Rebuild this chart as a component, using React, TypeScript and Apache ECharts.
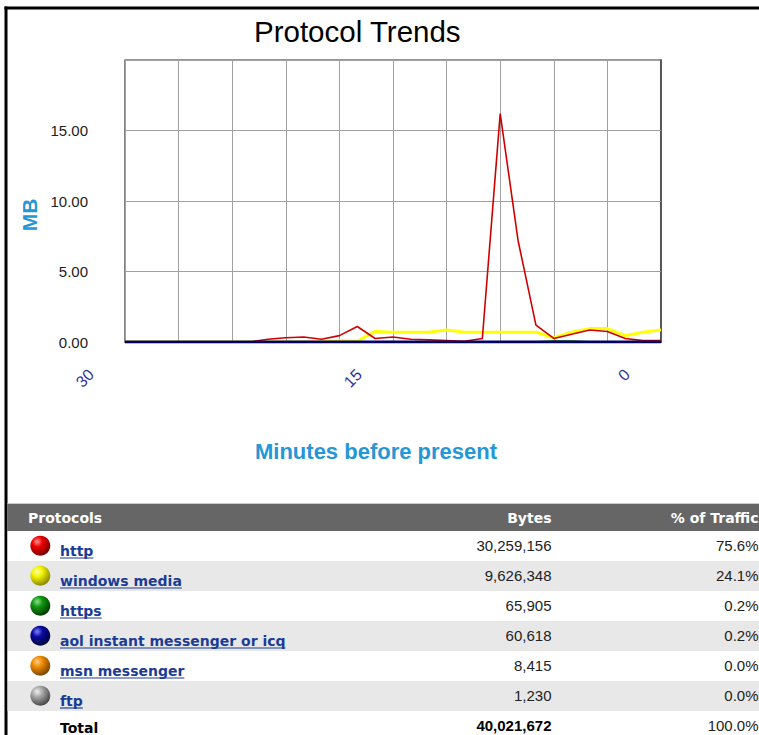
import { useEffect, useRef } from 'react';
import * as echarts from 'echarts';

// Minutes before present (x values), one sample per minute
const minutes = [30, 29, 28, 27, 26, 25, 24, 23, 22, 21, 20, 19, 18, 17, 16, 15, 14, 13, 12, 11, 10, 9, 8, 7, 6, 5, 4, 3, 2, 1, 0];

// MB per minute for each protocol
const httpMB = [0, 0, 0, 0, 0, 0, 0, 0, 0.2, 0.3, 0.35, 0.2, 0.45, 1.1, 0.25, 0.35, 0.2, 0.15, 0.1, 0.05, 0.25, 16.2, 7.2, 1.2, 0.25, 0.55, 0.85, 0.75, 0.25, 0.1, 0.1];
const windowsMediaMB = [0, 0, 0, 0, 0, 0, 0, 0, 0, 0, 0, 0, 0.1, 0.05, 0.75, 0.7, 0.7, 0.7, 0.85, 0.7, 0.7, 0.7, 0.7, 0.7, 0.3, 0.7, 0.95, 0.95, 0.45, 0.7, 0.85];
const httpsMB = [0, 0, 0, 0, 0, 0, 0, 0, 0, 0, 0, 0, 0, 0, 0, 0, 0, 0, 0, 0, 0, 0, 0, 0, 0.05, 0.05, 0, 0, 0, 0, 0];
const aolMB = [0, 0, 0, 0, 0, 0, 0, 0, 0, 0, 0, 0, 0, 0, 0, 0, 0, 0, 0, 0, 0, 0, 0, 0, 0, 0, 0, 0, 0, 0, 0];
const msnMB = [0, 0, 0, 0, 0, 0, 0, 0, 0, 0, 0, 0, 0, 0, 0, 0, 0, 0, 0, 0, 0, 0, 0, 0, 0, 0, 0, 0, 0, 0.05, 0];
const ftpMB = [0, 0, 0, 0, 0, 0, 0, 0, 0, 0, 0, 0, 0, 0, 0, 0, 0, 0, 0, 0, 0, 0, 0, 0, 0, 0, 0, 0, 0, 0, 0];

const xLabelMinutes = [30, 15, 0];

// Table
const protocolNames = ['http', 'windows media', 'https', 'aol instant messenger or icq', 'msn messenger', 'ftp'];
const protocolBytes = [30259156, 9626348, 65905, 60618, 8415, 1230];
const protocolPercent = [75.6, 24.1, 0.2, 0.2, 0.0, 0.0];
const totalBytes = 40021672;
const totalPercent = 100.0;

const lineColors = { http: '#d00000', wm: '#ffff00', https: '#008800', aol: '#000066', msn: '#ff9900', ftp: '#888888' };
const ballColors = [
  ['#ff9090', '#ee0000', '#700000'],
  ['#ffffb0', '#f2f200', '#808000'],
  ['#90e090', '#119911', '#003300'],
  ['#8080ff', '#0a0aa0', '#000030'],
  ['#ffd090', '#f08c00', '#704000'],
  ['#f0f0f0', '#a8a8a8', '#404040'],
];

const LINK = '#1a3c96';
const BLUE = '#2596d6';
const linkFont = 'bold 14px "DejaVu Sans"';

function measure(text: string, font: string) {
  const c = document.createElement('canvas').getContext('2d');
  if (!c) return text.length * 8;
  c.font = font;
  return c.measureText(text).width;
}

export default function App() {
  const ref = useRef<HTMLDivElement>(null);
  useEffect(() => {
    if (!ref.current) return;
    const chart = echarts.init(ref.current, null, { renderer: 'svg' });
    const pairs = (arr: number[]) => minutes.map((m, i) => [m, arr[i]]);
    const mk = (name: string, arr: number[], color: string, width: number) => ({
      name,
      type: 'line',
      data: pairs(arr),
      showSymbol: false,
      symbol: 'none',
      lineStyle: { color, width },
      itemStyle: { color },
      z: 3,
    });

    const g: any[] = [];
    // page frame
    g.push({ type: 'rect', shape: { x: 4.5, y: 6.5, width: 760, height: 3 }, style: { fill: '#000' }, silent: true });
    g.push({ type: 'rect', shape: { x: 4.5, y: 6.5, width: 3, height: 740 }, style: { fill: '#000' }, silent: true });
    // table header
    const rowTop = 531;
    const rowH = 30;
    g.push({ type: 'rect', shape: { x: 7.5, y: 503, width: 760, height: 1 }, style: { fill: '#cccccc' } });
    g.push({ type: 'rect', shape: { x: 7.5, y: 504, width: 760, height: 27 }, style: { fill: '#666666' } });
    g.push({ type: 'text', x: 28, y: 517.5, style: { text: 'Protocols', font: 'bold 14px "DejaVu Sans"', fill: '#fff', verticalAlign: 'middle' } });
    g.push({ type: 'text', x: 551.5, y: 517.5, style: { text: 'Bytes', font: 'bold 14px "DejaVu Sans"', fill: '#fff', align: 'right', verticalAlign: 'middle' } });
    g.push({ type: 'text', x: 758.5, y: 517.5, style: { text: '% of Traffic', font: 'bold 14px "DejaVu Sans"', fill: '#fff', align: 'right', verticalAlign: 'middle' } });
    protocolNames.forEach((name, i) => {
      const top = rowTop + i * rowH;
      g.push({ type: 'rect', shape: { x: 7.5, y: top, width: 760, height: rowH }, style: { fill: i % 2 === 1 ? '#e8e8e8' : '#ffffff' } });
      const [hi, mid, dark] = ballColors[i];
      g.push({
        type: 'circle',
        shape: { cx: 40.3, cy: top + 14.7, r: 10 },
        style: {
          fill: new echarts.graphic.RadialGradient(0.35, 0.3, 0.75, [
            { offset: 0, color: hi },
            { offset: 0.35, color: mid },
            { offset: 1, color: dark },
          ]),
        },
      });
      g.push({ type: 'text', x: 60, y: top + 19.5, style: { text: name, font: linkFont, fill: LINK, verticalAlign: 'middle' } });
      const w = measure(name, linkFont);
      g.push({ type: 'line', shape: { x1: 60, y1: top + 27, x2: 60 + w, y2: top + 27 }, style: { stroke: LINK, lineWidth: 1.2 } });
      g.push({ type: 'text', x: 551.5, y: top + 14.5, style: { text: protocolBytes[i].toLocaleString('en-US'), font: '15px "Liberation Sans"', fill: '#222', align: 'right', verticalAlign: 'middle' } });
      g.push({ type: 'text', x: 758.5, y: top + 14.5, style: { text: protocolPercent[i].toFixed(1) + '%', font: '15px "Liberation Sans"', fill: '#222', align: 'right', verticalAlign: 'middle' } });
    });
    const tTop = rowTop + protocolNames.length * rowH;
    g.push({ type: 'text', x: 60, y: tTop + 17, style: { text: 'Total', font: 'bold 14px "DejaVu Sans"', fill: '#000', verticalAlign: 'middle' } });
    g.push({ type: 'text', x: 551.5, y: tTop + 14.5, style: { text: totalBytes.toLocaleString('en-US'), font: 'bold 15px "Liberation Sans"', fill: '#000', align: 'right', verticalAlign: 'middle' } });
    g.push({ type: 'text', x: 758.5, y: tTop + 14.5, style: { text: totalPercent.toFixed(1) + '%', font: '15px "Liberation Sans"', fill: '#222', align: 'right', verticalAlign: 'middle' } });

    chart.setOption({
      animation: false,
      backgroundColor: '#ffffff',
      textStyle: { fontFamily: '"Liberation Sans", Arial, sans-serif' },
      title: {
        text: 'Protocol Trends',
        left: 254,
        top: 16,
        padding: 0,
        textStyle: { fontSize: 29.5, fontWeight: 'normal', color: '#000', fontFamily: '"Liberation Sans", Arial, sans-serif' },
      },
      grid: { left: 125, top: 60, right: 98, bottom: 393, show: true, borderColor: '#333', borderWidth: 1.2, backgroundColor: 'transparent' },
      xAxis: {
        type: 'value',
        min: 0,
        max: 30,
        interval: 3,
        inverse: true,
        name: 'Minutes before present',
        nameLocation: 'middle',
        nameGap: 98,
        nameTextStyle: { color: BLUE, fontSize: 22, fontWeight: 'bold', padding: [0, 34, 0, 0] },
        axisLine: { show: true, lineStyle: { color: '#333', width: 1.2 } },
        axisTick: { show: false },
        splitLine: { show: true, lineStyle: { color: '#a0a0a0', width: 1 } },
        axisLabel: {
          rotate: 45,
          margin: -4,
          padding: [0, 48, 0, 0],
          fontSize: 16,
          color: '#333399',
          showMinLabel: true,
          showMaxLabel: true,
          formatter: (v: number) => (xLabelMinutes.includes(v) ? String(v) : ''),
        },
      },
      yAxis: {
        type: 'value',
        min: 0,
        max: 20,
        interval: 5,
        name: 'MB',
        nameLocation: 'middle',
        nameGap: 85,
        nameTextStyle: { color: BLUE, fontSize: 21, fontWeight: 'bold', padding: [0, 28, 0, 0] },
        axisLine: { show: true, lineStyle: { color: '#444', width: 1.5 } },
        axisTick: { show: true, length: 4, lineStyle: { color: '#999' } },
        splitLine: { show: true, lineStyle: { color: '#a0a0a0', width: 1 } },
        axisLabel: {
          margin: 37,
          fontSize: 15,
          color: '#222',
          showMaxLabel: false,
          formatter: (v: number) => v.toFixed(2),
        },
      },
      series: [
        mk('ftp', ftpMB, lineColors.ftp, 2),
        mk('msn messenger', msnMB, lineColors.msn, 2),
        mk('https', httpsMB, lineColors.https, 2),
        mk('windows media', windowsMediaMB, lineColors.wm, 3),
        mk('http', httpMB, lineColors.http, 1.6),
        mk('aol instant messenger or icq', aolMB, lineColors.aol, 2.8),
      ],
      graphic: { elements: g },
    });
    return () => chart.dispose();
  }, []);
  return <div ref={ref} style={{ position: 'absolute', left: 0, top: 0, width: 759, height: 735 }} />;
}
